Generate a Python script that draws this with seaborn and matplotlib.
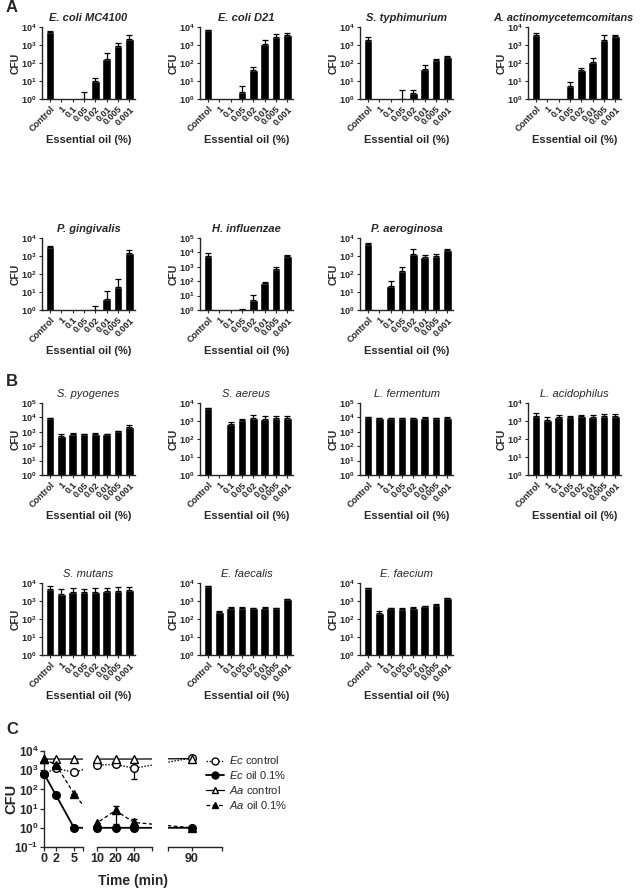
import numpy as np
import pandas as pd
import matplotlib
matplotlib.use('Agg')
import matplotlib.pyplot as plt
from matplotlib.lines import Line2D
from matplotlib.ticker import FuncFormatter, NullLocator, FixedLocator
import seaborn as sns

sns.set_style('ticks')
plt.rcParams['font.family'] = ['Liberation Sans', 'DejaVu Sans']
plt.rcParams['mathtext.fontset'] = 'custom'
plt.rcParams['mathtext.rm'] = 'Liberation Sans'
plt.rcParams['mathtext.bf'] = 'Liberation Sans:bold'
plt.rcParams['mathtext.it'] = 'Liberation Sans:italic'

nan = np.nan

# ---------------- data (CFU) ----------------
conc = ['Control', '1', '0.1', '0.05', '0.02', '0.01', '0.005', '0.001']

# panel A
ecoli_mc4100 = [5200, nan, nan, 1, 10.5, 170, 830, 2200]
ecoli_mc4100_err = [600, nan, nan, 1.3, 4.5, 200, 430, 1200]
ecoli_d21 = [6500, nan, nan, 2.3, 42, 1170, 2750, 3400]
ecoli_d21_err = [300, nan, nan, 3.2, 16, 630, 1500, 1300]
s_typhimurium = [1900, nan, nan, 1, 2.1, 44, 152, 210]
s_typhimurium_err = [900, nan, nan, 2, 0.9, 31, 15, 30]
a_actino = [3800, nan, nan, 5, 40, 110, 2000, 3000]
a_actino_err = [1000, nan, nan, 4, 15, 80, 1400, 600]
p_gingivalis = [3300, nan, nan, nan, 1, 4, 19, 1500]
p_gingivalis_err = [500, nan, nan, nan, 0.7, 7, 33, 650]
h_influenzae = [5800, nan, nan, 1, 5, 80, 650, 5500]
h_influenzae_err = [3200, nan, nan, 0.1, 5.5, 8, 300, 700]
p_aeroginosa = [4400, nan, 21, 148, 1300, 840, 1050, 2200]
p_aeroginosa_err = [1100, nan, 19, 100, 1200, 310, 250, 200]

# panel B
s_pyogenes = [8500, 550, 750, 680, 750, 680, 1050, 2100]
s_pyogenes_err = [800, 120, 100, 60, 80, 60, 100, 1000]
s_aereus = [5000, nan, 700, 1100, 1500, 1300, 1400, 1400]
s_aereus_err = [300, nan, 150, 150, 600, 600, 500, 600]
l_fermentum = [10500, 9000, 8500, 9000, 9000, 9500, 9300, 9300]
l_fermentum_err = [700, 300, 300, 300, 300, 400, 400, 700]
l_acidophilus = [2000, 1100, 1600, 1600, 1800, 1600, 1900, 1850]
l_acidophilus_err = [800, 550, 500, 300, 450, 500, 500, 500]
s_mutans = [4500, 2500, 3200, 3200, 3200, 3500, 3500, 4000]
s_mutans_err = [2500, 2000, 1800, 1600, 1800, 1500, 2500, 2300]
e_faecalis = [6800, 250, 420, 420, 400, 430, 400, 1250]
e_faecalis_err = [300, 20, 40, 40, 30, 40, 30, 60]
e_faecium = [5000, 220, 400, 380, 400, 520, 600, 1400]
e_faecium_err = [300, 60, 30, 20, 60, 40, 40, 50]

# panel C (time-kill)
time_min = [0, 2, 5, 10, 20, 40, 90]
ec_control = [650, 1260, 760, 1860, 2000, 1260, 4400]
ec_control_err_low = [0, 0, 0, 0, 0, 900, 0]
ec_oil = [650, 50, 1, 1, 1, 1, 1]
aa_control = [3800, 3800, 3800, 3800, 3800, 3800, 4000]
aa_oil = [3800, 1900, 60, 1.8, 8, 1.9, 1]
aa_oil_err = [0, 0, 0, 0, 6.5, 1.1, 0]

W, H = 644, 892
fig = plt.figure(figsize=(W / 100, H / 100), dpi=100)


def add_ax(x0, top, w, h):
    return fig.add_axes([x0 / W, 1 - (top + h) / H, w / W, h / H])


def log_label(v, pos):
    return r'$\mathbf{10^{%d}}$' % int(round(np.log10(v)))


def bar_panel(ax, title, vals, errs, ymax_exp, title_style, title_size=8, title_x=0.5):
    df = pd.DataFrame({'conc': conc, 'cfu': vals})
    sns.barplot(data=df, x='conc', y='cfu', order=conc, color='black',
                width=0.78, errorbar=None, ax=ax, saturation=1)
    ax.set_yscale('log')
    ax.errorbar(np.arange(len(conc)), vals,
                yerr=[np.zeros(len(conc)), errs], fmt='none', ecolor='black',
                elinewidth=0.9, capsize=2.2, capthick=0.9, zorder=1)
    ax.set_ylim(1, 10 ** ymax_exp)
    ax.set_xlim(-0.7, 7.5)
    ax.yaxis.set_major_locator(FixedLocator([10 ** k for k in range(ymax_exp + 1)]))
    ax.yaxis.set_minor_locator(NullLocator())
    ax.yaxis.set_major_formatter(FuncFormatter(log_label))
    ax.set_xticks(np.arange(len(conc)))
    ax.set_xticklabels(conc, rotation=45, ha='right', rotation_mode='anchor',
                       fontsize=6.5, fontweight='bold')
    for lab in ax.get_yticklabels():
        lab.set_fontsize(6.5)
    ax.tick_params(axis='both', length=2.5, width=0.8, pad=1.5)
    ax.set_xlabel('Essential oil (%)', fontsize=8, fontweight='bold', labelpad=1)
    ax.set_ylabel('CFU', fontsize=7.5, fontweight='bold', labelpad=0)
    ax.set_title(title, fontsize=title_size, fontweight=title_style,
                 style='italic', pad=4, x=title_x)
    sns.despine(ax=ax)
    for s in ['left', 'bottom']:
        ax.spines[s].set_linewidth(1.0)


cols = [42, 200, 360, 528]
bw = 93

panels_a = [
    ('E. coli MC4100', ecoli_mc4100, ecoli_mc4100_err, 4),
    ('E. coli D21', ecoli_d21, ecoli_d21_err, 4),
    ('S. typhimurium', s_typhimurium, s_typhimurium_err, 4),
    ('A. actinomycetemcomitans', a_actino, a_actino_err, 4),
    ('P. gingivalis', p_gingivalis, p_gingivalis_err, 4),
    ('H. influenzae', h_influenzae, h_influenzae_err, 5),
    ('P. aeroginosa', p_aeroginosa, p_aeroginosa_err, 4),
]
panels_b = [
    ('S. pyogenes', s_pyogenes, s_pyogenes_err, 5),
    ('S. aereus', s_aereus, s_aereus_err, 4),
    ('L. fermentum', l_fermentum, l_fermentum_err, 5),
    ('L. acidophilus', l_acidophilus, l_acidophilus_err, 4),
    ('S. mutans', s_mutans, s_mutans_err, 4),
    ('E. faecalis', e_faecalis, e_faecalis_err, 4),
    ('E. faecium', e_faecium, e_faecium_err, 4),
]

rows_a = [27, 238]
rows_b = [403, 583]
bh = 72

for i, (t, v, e, m) in enumerate(panels_a):
    ax = add_ax(cols[i % 4], rows_a[i // 4], bw, bh)
    if t.startswith('A. act'):
        bar_panel(ax, t, v, e, m, 'bold', title_size=7.8, title_x=0.38)
    else:
        bar_panel(ax, t, v, e, m, 'bold')
for i, (t, v, e, m) in enumerate(panels_b):
    ax = add_ax(cols[i % 4], rows_b[i // 4], bw, bh)
    bar_panel(ax, t, v, e, m, 'normal')

# ---------------- panel C: segmented time axis ----------------
# piecewise time -> pixel scale (linear 0-6.5, log 10-78, linear 82-100, with gaps)
S1_END, S2_START, S2_END, S3_START, S3_END = 6.5, 10.0, 78.0, 82.0, 100.0
PX1, PX2, PX_DBL, PX3, PX3_UNIT = 6.0, 53.0, 18.5, 124.0, 3.0
p_s1 = S1_END * PX1
p_s2e = PX2 + PX_DBL * np.log2(S2_END / S2_START)


def t_fwd(t):
    t = np.asarray(t, dtype=float)
    tl = np.maximum(t, 1e-6)
    return np.select(
        [t <= S1_END, t < S2_START, t <= S2_END, t < S3_START],
        [t * PX1,
         p_s1 + (t - S1_END) * (PX2 - p_s1) / (S2_START - S1_END),
         PX2 + PX_DBL * np.log2(tl / S2_START),
         p_s2e + (t - S2_END) * (PX3 - p_s2e) / (S3_START - S2_END)],
        PX3 + (t - S3_START) * PX3_UNIT)


def t_inv(p):
    p = np.asarray(p, dtype=float)
    return np.select(
        [p <= p_s1, p < PX2, p <= p_s2e, p < PX3],
        [p / PX1,
         S1_END + (p - p_s1) * (S2_START - S1_END) / (PX2 - p_s1),
         S2_START * 2 ** ((p - PX2) / PX_DBL),
         S2_END + (p - p_s2e) * (S3_START - S2_END) / (PX3 - p_s2e)],
        S3_START + (p - PX3) / PX3_UNIT)


c_left, c_top, c_h = 44, 751, 96
segs = [((0, S1_END), [0, 2, 5], [S1_END]),
        ((S2_START, S2_END), [10, 20, 40], [S2_END]),
        ((S3_START, S3_END), [90], [S3_START, S3_END])]

series = [
    (ec_control, 'o', 'white', (0, (1, 1.2)), 1.0),
    (ec_oil, 'o', 'black', '-', 1.3),
    (aa_control, '^', 'white', '-', 0.9),
    (aa_oil, '^', 'black', (0, (3, 2)), 0.9),
]

for k, (xl, labt, endt) in enumerate(segs):
    p0, p1 = float(t_fwd(xl[0])), float(t_fwd(xl[1]))
    ax = add_ax(c_left + p0, c_top, p1 - p0, c_h)
    ax.set_yscale('log')
    ax.set_xscale('function', functions=(t_fwd, t_inv))
    for vals, mk, fc, ls, lw in series:
        sns.lineplot(x=time_min, y=vals, color='black', linestyle=ls,
                     linewidth=lw, ax=ax, zorder=2)
    ax.errorbar(time_min, ec_control, yerr=[ec_control_err_low, np.zeros(7)],
                fmt='none', ecolor='black', elinewidth=0.9, capsize=2.5, zorder=2)
    ax.errorbar(time_min, aa_oil, yerr=aa_oil_err, fmt='none', ecolor='black',
                elinewidth=0.9, capsize=2.5, zorder=2)
    inside = [j for j, t in enumerate(time_min) if xl[0] <= t <= xl[1]]
    for vals, mk, fc, ls, lw in series:
        ax.plot([time_min[j] for j in inside], [vals[j] for j in inside],
                linestyle='none', marker=mk, markersize=5.5, mfc=fc,
                mec='black', mew=1.0, clip_on=False, zorder=3)
    ax.set_xlim(*xl)
    ax.set_ylim(0.1, 1e4)
    ax.xaxis.set_minor_locator(NullLocator())
    ax.yaxis.set_minor_locator(NullLocator())
    ticks = sorted(labt + endt)
    ax.xaxis.set_major_locator(FixedLocator(ticks))
    ax.set_xticklabels([str(t) if t in labt else '' for t in ticks],
                       fontsize=9, fontweight='bold')
    ax.tick_params(axis='x', length=3, width=0.9, pad=1.5)
    sns.despine(ax=ax)
    ax.spines['bottom'].set_linewidth(1.0)
    if k == 0:
        ax.yaxis.set_major_locator(FixedLocator([10.0 ** p for p in range(-1, 5)]))
        ax.yaxis.set_major_formatter(FuncFormatter(log_label))
        for lab in ax.get_yticklabels():
            lab.set_fontsize(8.5)
        ax.tick_params(axis='y', length=3, width=0.9, pad=1.0)
        ax.spines['left'].set_linewidth(1.0)
        ax.set_ylabel('CFU', fontsize=10.5, fontweight='bold')
        ax.yaxis.set_label_coords(-0.66, 0.5)
    else:
        ax.spines['left'].set_visible(False)
        ax.tick_params(axis='y', left=False, labelleft=False)

fig.text(133 / W, 1 - 881 / H, 'Time (min)', fontsize=10, fontweight='bold',
         ha='center', va='center')

handles = [Line2D([], [], color='black', linestyle=ls, linewidth=lw, marker=mk,
                  markersize=5, mfc=fc, mec='black') for _, mk, fc, ls, lw in series]
labels = [r'$\it{Ec}$ control', r'$\it{Ec}$ oil 0.1%',
          r'$\it{Aa}$ control', r'$\it{Aa}$ oil 0.1%']
fig.legend(handles, labels, loc='upper left', bbox_to_anchor=(202 / W, 1 - 750 / H),
           frameon=False, fontsize=8, handlelength=1.6, labelspacing=0.25,
           handletextpad=0.4, borderaxespad=0)

for letter, y in [('A', 8), ('B', 382), ('C', 729)]:
    fig.text(6 / W, 1 - y / H, letter, fontsize=12, fontweight='bold',
             ha='left', va='center')

fig.savefig('out.png', dpi=100)
